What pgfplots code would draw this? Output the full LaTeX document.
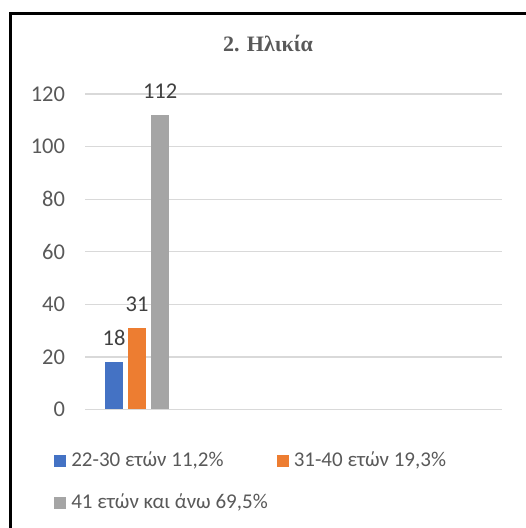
\documentclass[border=0pt]{standalone}
\usepackage{pgfplots}
\pgfplotsset{compat=1.18}
\usepackage{fontspec}
\setmainfont{Carlito}
\newfontfamily\titlefont{Liberation Serif}

\definecolor{sBlue}{HTML}{4472C4}
\definecolor{sOrange}{HTML}{ED7D31}
\definecolor{sGray}{HTML}{A5A5A5}
\definecolor{txt}{HTML}{595959}
\definecolor{lbl}{HTML}{404040}
\definecolor{grid}{HTML}{D9D9D9}

\begin{document}
\begin{tikzpicture}
\useasboundingbox (0,0) rectangle (526pt,528pt);
% frame (top and left edges)
\draw[line width=2.5pt,black] (10.7pt,-10pt) -- (10.7pt,514.3pt) -- (540pt,514.3pt);

\begin{axis}[
  at={(85pt,118.5pt)}, anchor=south west,
  scale only axis, width=417pt, height=315.5pt,
  ybar=5pt, bar width=18pt,
  xmin=-0.5, xmax=3.5,
  ymin=0, ymax=120,
  ytick={0,20,...,120},
  xtick=\empty,
  axis line style={draw=none},
  major tick length=0pt,
  ymajorgrids,
  major grid style={draw=grid, line width=1.3pt},
  /pgf/number format/assume math mode=true,
  yticklabel style={font=\fontsize{22.5}{26}\selectfont, color=txt, xshift=-16.5pt},
  title={2. Ηλικία},
  title style={at={(axis description cs:0.439,1.117)}, anchor=base,
    font=\titlefont\bfseries\fontsize{22}{26}\selectfont, color=txt},
  nodes near coords,
  nodes near coords style={anchor=base, yshift=16.5pt,
    font=\fontsize{22.5}{26}\selectfont, color=lbl},
  legend columns=2,
  legend style={at={(axis description cs:-0.0736,-0.1442)}, anchor=north west,
    draw=none, fill=none, inner sep=0pt, outer sep=0pt,
    font=\fontsize{21}{25}\selectfont, text=txt,
    row sep=30pt,
    nodes={inner sep=0pt, text height=12pt, text depth=0pt},
    /tikz/every odd column/.append style={column sep=5pt},
    /tikz/every even column/.append style={column sep=9pt}},
  legend cell align=left,
  sq/.style={legend image code/.code={\draw[##1,draw=none] (0pt,-6pt) rectangle (12pt,6pt);}},
]
\addplot[fill=sBlue, draw=none, sq] coordinates {(0,18)};
\addplot[fill=sOrange, draw=none, sq] coordinates {(0,31)};
\addplot[fill=sGray, draw=none, sq] coordinates {(0,112)};
\legend{{22-30 ετών 11,2\%}, {31-40 ετών 19,3\%}, {41 ετών και άνω 69,5\%}}
\end{axis}
\end{tikzpicture}
\end{document}
